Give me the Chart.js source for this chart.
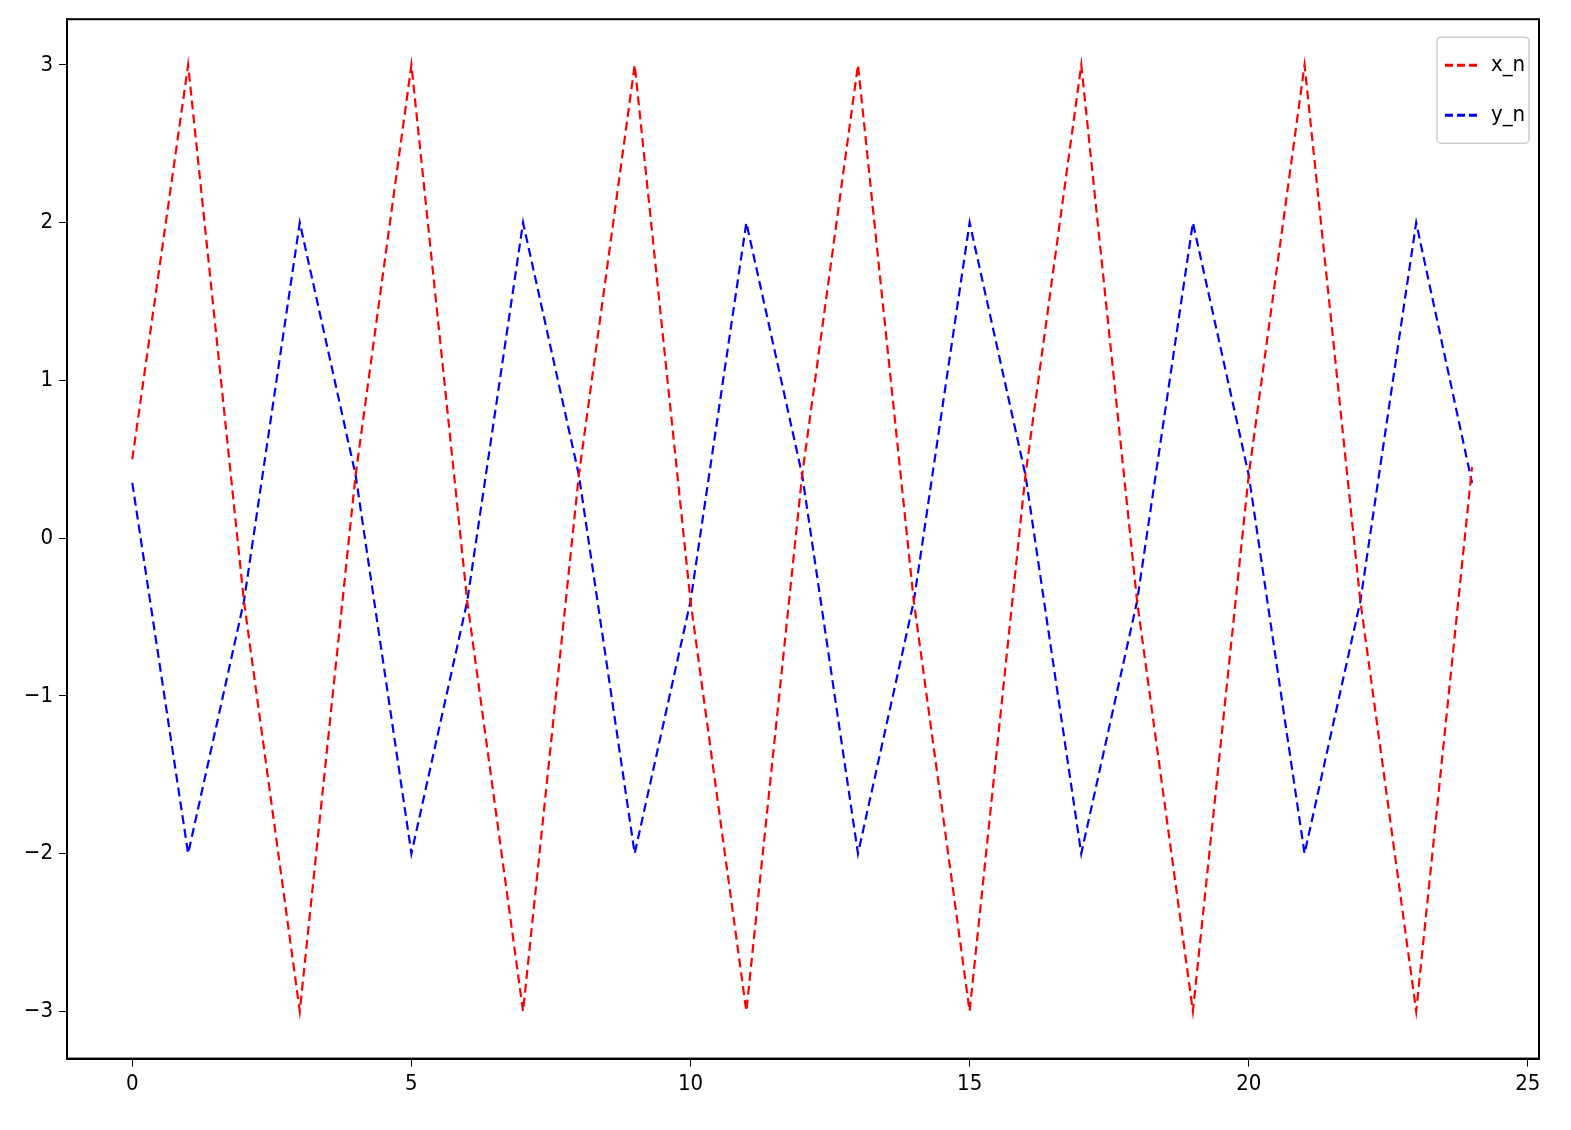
<!DOCTYPE html>
<html>
<head>
<meta charset="utf-8">
<script src="https://cdn.jsdelivr.net/npm/chart.js@4"></script>
<style>
  body { margin: 0; background: #fff; }
  #wrap { width: 1571px; height: 1130px; }
</style>
</head>
<body>
<div id="wrap"><canvas id="chart"></canvas></div>
<script>
var steps = [0,1,2,3,4,5,6,7,8,9,10,11,12,13,14,15,16,17,18,19,20,21,22,23,24];
var xValues = [0.5,3,-0.4,-3,0.4,3,-0.4,-3,0.4,3,-0.4,-3,0.4,3,-0.4,-3,0.4,3,-0.4,-3,0.4,3,-0.4,-3,0.45];
var yValues = [0.35,-2,-0.4,2,0.4,-2,-0.4,2,0.4,-2,-0.4,2,0.4,-2,-0.4,2,0.4,-2,-0.4,2,0.4,-2,-0.4,2,0.35];
var xTicks = [0,5,10,15,20,25];
var yTicks = [-3,-2,-1,0,1,2,3];

function pts(vals) {
  return steps.map(function (s, i) { return { x: s, y: vals[i] }; });
}

// frame around plot + legend box in the corner
var framePlugin = {
  id: "frame",
  afterDatasetsDraw: function (chart) {
    var a = chart.chartArea, c = chart.ctx;
    c.save();
    c.strokeStyle = "#000";
    c.lineWidth = 2;
    c.strokeRect(a.left, a.top, a.right - a.left, a.bottom - a.top);

    var bx = a.right - 102, by = a.top + 18, bw = 92, bh = 106;
    c.fillStyle = "rgba(255,255,255,0.85)";
    c.strokeStyle = "#ccc";
    c.lineWidth = 1.5;
    c.beginPath();
    c.roundRect(bx, by, bw, bh, 4);
    c.fill();
    c.stroke();
    var items = [["x_n", "red"], ["y_n", "blue"]];
    c.font = "22px 'DejaVu Sans Condensed', 'Liberation Sans Narrow', sans-serif";
    c.textBaseline = "middle";
    items.forEach(function (it, i) {
      var yy = by + 28 + i * 50;
      c.strokeStyle = it[1];
      c.lineWidth = 3;
      c.setLineDash([8, 4]);
      c.beginPath();
      c.moveTo(bx + 8, yy);
      c.lineTo(bx + 44, yy);
      c.stroke();
      c.setLineDash([]);
      c.fillStyle = "#000";
      c.fillText(it[0], bx + 54, yy);
    });
    c.restore();
  }
};

var tickFont = { family: "'DejaVu Sans Condensed', 'Liberation Sans Narrow', sans-serif", size: 22 };
function minus(v) { return String(v).replace("-", "\u2212"); }

new Chart(document.getElementById("chart"), {
  type: "line",
  data: {
    datasets: [
      { label: "x_n", data: pts(xValues), borderColor: "red", borderWidth: 2.2, borderDash: [9, 5], pointRadius: 0, tension: 0 },
      { label: "y_n", data: pts(yValues), borderColor: "blue", borderWidth: 2.2, borderDash: [9, 5], pointRadius: 0, tension: 0 }
    ]
  },
  plugins: [framePlugin],
  options: {
    responsive: true,
    maintainAspectRatio: false,
    animation: false,
    layout: { padding: { top: 10, right: 32, left: 0, bottom: 29 } },
    plugins: { legend: { display: false }, tooltip: { enabled: false } },
    scales: {
      x: {
        type: "linear",
        min: -1.17,
        max: 25.2,
        afterBuildTicks: function (s) { s.ticks = xTicks.map(function (v) { return { value: v }; }); },
        grid: { drawOnChartArea: false, tickLength: 8, color: "#000" },
        border: { color: "#000", width: 2 },
        ticks: { color: "#000", font: tickFont, padding: 4, maxRotation: 0, callback: minus }
      },
      y: {
        min: -3.3,
        max: 3.29,
        afterBuildTicks: function (s) { s.ticks = yTicks.map(function (v) { return { value: v }; }); },
        grid: { drawOnChartArea: false, tickLength: 8, color: "#000" },
        border: { color: "#000", width: 2 },
        ticks: { color: "#000", font: tickFont, padding: 6, callback: minus },
        afterFit: function (s) { s.width = 67; }
      }
    }
  }
});
</script>
</body>
</html>
